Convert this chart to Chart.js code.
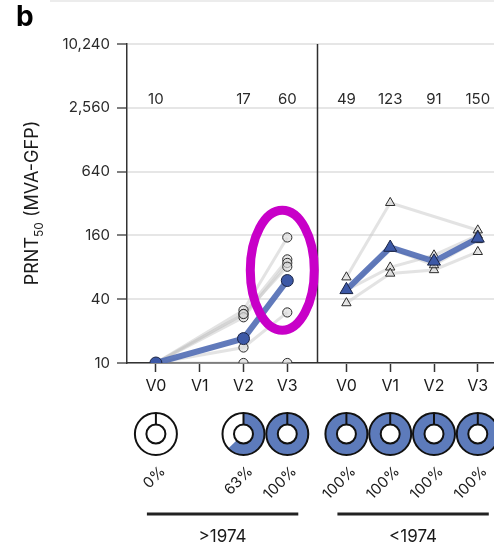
<!DOCTYPE html>
<html>
<head>
<meta charset="utf-8">
<script src="https://cdn.jsdelivr.net/npm/chart.js@4.4.1/dist/chart.umd.min.js"></script>
<style>
  html, body { margin: 0; padding: 0; background: #fff; }
</style>
</head>
<body>
<canvas id="c" width="494" height="547"></canvas>
<script>
// ---- data ----
const visits = ['V0', 'V1', 'V2', 'V3'];
const groupNames = ['>1974', '<1974'];
const yTicks = [10, 40, 160, 640, 2560, 10240];

// geometric mean titres per visit
const gmtPost1974 = [10, null, 17, 60];
const gmtPre1974 = [49, 123, 91, 150];

// seroconversion (%) per visit
const seroPost1974 = [0, null, 63, 100];
const seroPre1974 = [100, 100, 100, 100];

// individual PRNT50 titres, one row per participant (V0..V3)
const subjectsPost1974 = [
  [10, null, 31.5, 153],
  [10, null, 29, 95],
  [10, null, 27, 88],
  [10, null, 29, 81],
  [10, null, 14, 30],
  [10, null, 10, 10]
];
const subjectsPre1974 = [
  [64.5, 325, null, 179],
  [48.6, 80, 104, 160],
  [36.8, 70, 75.5, 112],
  [48.6, 120, 84, 145]
];

// ---- layout helpers ----
const groupStart = [0, 4.35];          // x offset of each cohort panel
const panelDivider = 3.675;            // x of the vertical separator
const X_MIN = -0.66, X_MAX = 7.72;
const xOf = (g, i) => groupStart[g] + i;
const toPoints = (g, arr) => arr.map((v, i) => v == null ? null : { x: xOf(g, i), y: v }).filter(p => p);

const FONT = 'Inter, "Liberation Sans", Arial, sans-serif';
const BLUE_FILL = '#5d7bbb';

const datasets = [];
// grey per-participant lines
[subjectsPost1974, subjectsPre1974].forEach((subs, g) => {
  subs.forEach(s => datasets.push({
    data: toPoints(g, s), order: 4,
    borderColor: 'rgba(200,200,200,0.5)', borderWidth: 3,
    pointRadius: 0, showLine: true, tension: 0
  }));
});
// grey per-participant markers
[subjectsPost1974, subjectsPre1974].forEach((subs, g) => {
  datasets.push({
    data: subs.flatMap(s => toPoints(g, s)), order: 3,
    showLine: false,
    pointStyle: g === 0 ? 'circle' : 'triangle',
    pointRadius: g === 0 ? 4.6 : 5.4,
    pointBackgroundColor: 'rgba(218,218,218,0.65)',
    pointBorderColor: '#2b2b2b', pointBorderWidth: 1
  });
});
// geometric mean lines
[gmtPost1974, gmtPre1974].forEach((gm, g) => {
  datasets.push({
    data: toPoints(g, gm), order: g === 0 ? 1 : 0,
    showLine: true, tension: 0,
    borderColor: 'rgba(75,104,178,0.88)', borderWidth: 6,
    pointStyle: g === 0 ? 'circle' : 'triangle',
    pointRadius: g === 0 ? 6 : 7.5,
    pointBackgroundColor: '#3c58a6',
    pointBorderColor: '#1b2444', pointBorderWidth: 1
  });
});

const xTickValues = [0, 1, 2, 3].map(i => xOf(0, i)).concat([0, 1, 2, 3].map(i => xOf(1, i)));

// ---- annotations drawn around the plot ----
const decorations = {
  id: 'decorations',
  beforeDatasetsDraw(chart) {
    const { ctx, chartArea, scales: { x } } = chart;
    ctx.save();
    ctx.strokeStyle = '#2e2e2e';
    ctx.lineWidth = 1.5;
    const px = Math.round(x.getPixelForValue(panelDivider)) + 0.5;
    ctx.beginPath();
    ctx.moveTo(px, chartArea.top);
    ctx.lineTo(px, chartArea.bottom);
    ctx.stroke();
    ctx.restore();
  },
  afterDatasetsDraw(chart) {
    const { ctx, scales: { x, y } } = chart;
    // highlight ring around the V3 >1974 values
    ctx.save();
    ctx.strokeStyle = '#c800c8';
    ctx.lineWidth = 9;
    ctx.beginPath();
    ctx.ellipse(x.getPixelForValue(xOf(0, 3)) - 5, y.getPixelForValue(75), 32, 60, 0, 0, Math.PI * 2);
    ctx.stroke();
    ctx.restore();
  },
  afterDraw(chart) {
    const { ctx, scales: { x, y } } = chart;
    ctx.save();

    // thin rule at the very top
    ctx.strokeStyle = '#e6e6e6';
    ctx.lineWidth = 1.5;
    ctx.beginPath(); ctx.moveTo(50, 1); ctx.lineTo(494, 1); ctx.stroke();

    // panel letter
    ctx.fillStyle = '#000';
    ctx.font = 'bold 28px ' + FONT;
    ctx.textAlign = 'left';
    ctx.textBaseline = 'alphabetic';
    ctx.fillText('b', 16, 26);

    // y-axis title with subscript
    ctx.save();
    ctx.translate(33, 203);
    ctx.rotate(-Math.PI / 2);
    ctx.fillStyle = '#1a1a1a';
    const big = '18px ' + FONT, small = '12px ' + FONT;
    ctx.font = big; const w1 = ctx.measureText('PRNT').width;
    ctx.font = small; const w2 = ctx.measureText('50').width;
    ctx.font = big; const w3 = ctx.measureText(' (MVA-GFP)').width;
    let sx = -(w1 + w2 + w3) / 2;
    ctx.textBaseline = 'middle';
    ctx.textAlign = 'left';
    ctx.font = big; ctx.fillText('PRNT', sx, 0); sx += w1;
    ctx.font = small; ctx.fillText('50', sx, 6); sx += w2;
    ctx.font = big; ctx.fillText(' (MVA-GFP)', sx, 0);
    ctx.restore();

    // GMT values above the plot
    ctx.fillStyle = '#2a2a2a';
    ctx.font = '15px ' + FONT;
    ctx.textAlign = 'center';
    ctx.textBaseline = 'middle';
    const labelY = y.getPixelForValue(2560) - 8;
    [gmtPost1974, gmtPre1974].forEach((gm, g) => gm.forEach((v, i) => {
      if (v == null) return;
      ctx.fillText(String(v), x.getPixelForValue(xOf(g, i)), labelY);
    }));

    // seroconversion donuts and percentages
    const cy = 434, rOut = 21, rIn = 9.5;
    [seroPost1974, seroPre1974].forEach((sero, g) => sero.forEach((p, i) => {
      if (p == null) return;
      const cx = x.getPixelForValue(xOf(g, i));
      const start = -Math.PI / 2;
      // white base ring
      ctx.beginPath();
      ctx.arc(cx, cy, rOut, 0, Math.PI * 2);
      ctx.arc(cx, cy, rIn, Math.PI * 2, 0, true);
      ctx.fillStyle = '#fff';
      ctx.fill('evenodd');
      if (p > 0) {
        const end = start + Math.PI * 2 * p / 100;
        ctx.beginPath();
        ctx.arc(cx, cy, rOut, start, end);
        ctx.arc(cx, cy, rIn, end, start, true);
        ctx.closePath();
        ctx.fillStyle = BLUE_FILL;
        ctx.fill();
      }
      ctx.strokeStyle = '#111';
      ctx.lineWidth = 2;
      ctx.beginPath(); ctx.arc(cx, cy, rOut, 0, Math.PI * 2); ctx.stroke();
      ctx.beginPath(); ctx.arc(cx, cy, rIn, 0, Math.PI * 2); ctx.stroke();
      ctx.beginPath(); ctx.moveTo(cx, cy - rIn); ctx.lineTo(cx, cy - rOut); ctx.stroke();

      // rotated percentage label
      ctx.save();
      ctx.translate(cx + 7, 469);
      ctx.rotate(-Math.PI / 4);
      ctx.fillStyle = '#1a1a1a';
      ctx.font = '15px ' + FONT;
      ctx.textAlign = 'right';
      ctx.textBaseline = 'middle';
      ctx.fillText(p + '%', 0, 0);
      ctx.restore();
    }));

    // cohort brackets
    ctx.strokeStyle = '#222';
    ctx.lineWidth = 3;
    ctx.fillStyle = '#1a1a1a';
    ctx.font = '17px ' + FONT;
    ctx.textAlign = 'center';
    ctx.textBaseline = 'middle';
    groupNames.forEach((name, g) => {
      const x0 = x.getPixelForValue(xOf(g, 0)) - 9;
      const x1 = x.getPixelForValue(xOf(g, 3)) + 11;
      ctx.beginPath(); ctx.moveTo(x0, 514); ctx.lineTo(x1, 514); ctx.stroke();
      ctx.fillText(name, (x0 + x1) / 2, 537);
    });
    ctx.restore();
  }
};

new Chart(document.getElementById('c'), {
  type: 'scatter',
  data: { datasets },
  options: {
    responsive: false,
    devicePixelRatio: 1,
    animation: false,
    layout: { autoPadding: false, padding: { top: 44, left: 0, right: 0, bottom: 0 } },
    plugins: { legend: { display: false }, tooltip: { enabled: false } },
    scales: {
      x: {
        type: 'linear',
        min: X_MIN, max: X_MAX,
        afterBuildTicks: s => { s.ticks = xTickValues.map(v => ({ value: v })); },
        afterFit: s => { s.height = 184; s.paddingLeft = 0; s.paddingRight = 0; },
        ticks: {
          autoSkip: false, maxRotation: 0, padding: 5,
          color: '#1a1a1a', font: { family: FONT, size: 16 },
          callback: (v, i) => visits[i % 4]
        },
        grid: { drawOnChartArea: false, tickLength: 9, tickColor: '#333', tickWidth: 1.5 },
        border: { color: '#333', width: 1.5 }
      },
      y: {
        type: 'logarithmic',
        min: 10, max: 10240,
        afterBuildTicks: s => { s.ticks = yTicks.map(v => ({ value: v })); },
        afterFit: s => { s.width = 127; },
        ticks: {
          padding: 7, color: '#2a2a2a', font: { family: FONT, size: 15 },
          callback: v => Number(v).toLocaleString('en-US')
        },
        grid: { color: '#e6e6e6', lineWidth: 2, tickLength: 10, tickColor: '#555', tickWidth: 1.5 },
        border: { color: '#333', width: 1.5 }
      }
    }
  },
  plugins: [decorations]
});
</script>
</body>
</html>
